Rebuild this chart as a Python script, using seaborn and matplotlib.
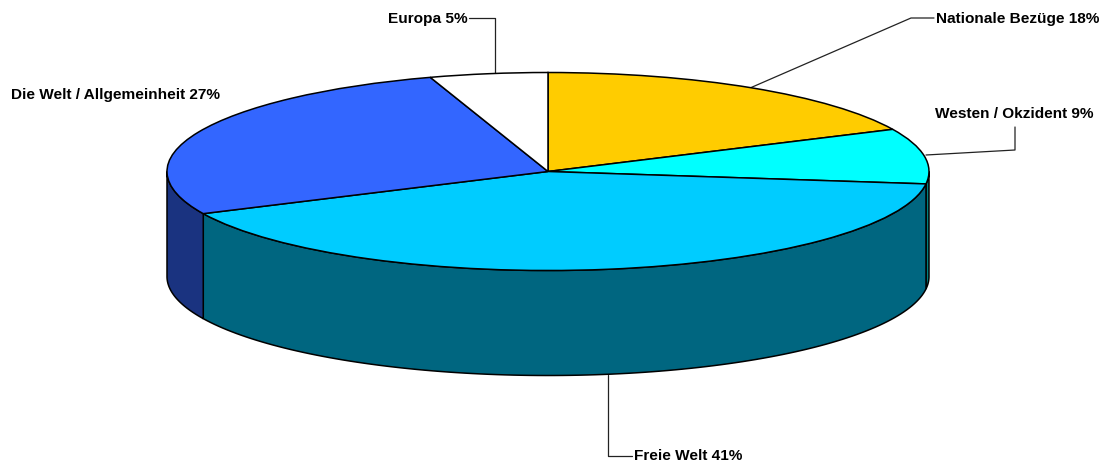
import numpy as np
import matplotlib
matplotlib.use("Agg")
import matplotlib.pyplot as plt
from matplotlib.transforms import Affine2D
import seaborn as sns

# Shares of each reference category, clockwise from twelve o'clock
categories = ["Nationale Bezüge", "Westen / Okzident", "Freie Welt",
              "Die Welt / Allgemeinheit", "Europa"]
shares = [18, 9, 41, 27, 5]
top_colors = ["#FFCC00", "#00FFFF", "#00CCFF", "#3366FF", "#FFFFFF"]
side_colors = ["#806600", "#008080", "#006680", "#1A3380", "#808080"]

W, H = 1109, 466
CX, CY, RX, RY, DEPTH = 548, 171.5, 381, 99, 105

sns.set_theme(style="white")
plt.rcParams["font.family"] = ["Liberation Sans", "DejaVu Sans"]
top_palette = sns.color_palette(top_colors)
side_palette = sns.color_palette(side_colors)

fig = plt.figure(figsize=(W / 100, H / 100), dpi=100, facecolor="white")
ax = fig.add_axes([0, 0, 1, 1])

# Top face: a unit pie stretched into an ellipse by the axes scaling
ax.pie(shares, colors=top_palette, startangle=90, counterclock=False,
       radius=1, center=(0, 0),
       wedgeprops=dict(edgecolor="black", linewidth=1.1, zorder=5))
ax.set_aspect("auto")
ax.set_xlim(-CX / RX, (W - CX) / RX)
ax.set_ylim((CY - H) / RY, CY / RY)
ax.axis("off")

# Side wall: the part of every slice that lies on the front half of the rim
depth = DEPTH / RY
edges = np.cumsum([0] + shares) / sum(shares) * 2 * np.pi
for start, stop, color in zip(edges[:-1], edges[1:], side_palette):
    lo, hi = max(start, np.pi / 2), min(stop, 3 * np.pi / 2)
    if lo >= hi:
        continue
    theta = np.linspace(lo, hi, 120)
    xs = np.sin(theta)
    ys = np.cos(theta)
    ax.fill(np.r_[xs, xs[::-1]], np.r_[ys, ys[::-1] - depth],
            facecolor=color, edgecolor="black", linewidth=1.1, zorder=2)

# Leader lines and labels are placed in pixel coordinates
px = Affine2D().scale(1, -1).translate(0, H)
leaders = [
    ([750, 911, 934], [88, 18, 18]),
    ([926, 1015, 1015], [155, 150, 127]),
    ([608, 608, 632], [375, 456, 456]),
    ([], []),
    ([495, 495, 469], [73, 18, 18]),
]
label_xy = [(936, 18.5), (935, 113.5), (634, 456.5), (11, 95), (388, 19)]
for name, share, (lx, ly), (tx, ty) in zip(categories, shares, leaders, label_xy):
    if lx:
        ax.plot(lx, ly, color="#222222", linewidth=0.9, transform=px,
                clip_on=False, zorder=1)
    ax.text(tx, ty, f"{name} {share}%", transform=px, ha="left", va="center",
            fontsize=11.1, fontweight="bold", color="black", zorder=6)

fig.savefig("out.png", dpi=100, facecolor="white")
